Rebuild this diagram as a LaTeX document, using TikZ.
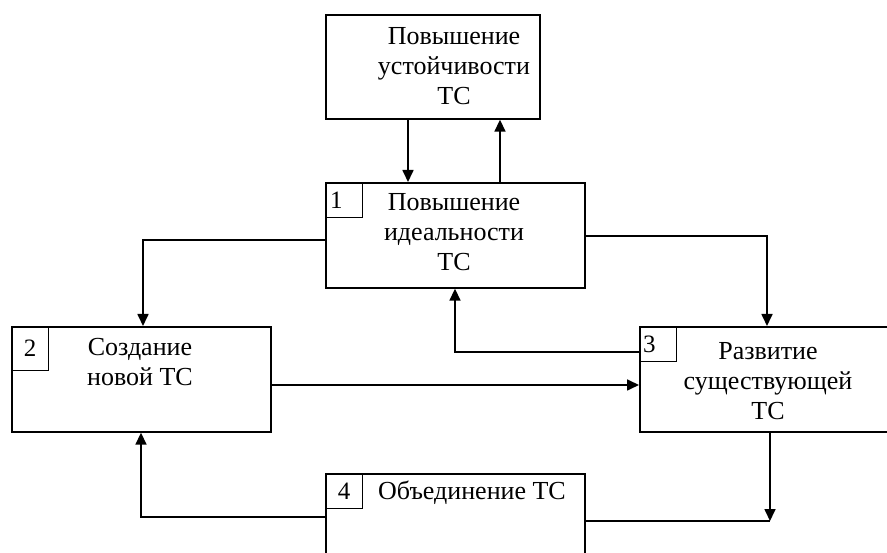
\documentclass[tikz,border=0pt]{standalone}
\usepackage{fontspec}
\setmainfont{Liberation Serif}
\usetikzlibrary{arrows.meta}
\begin{document}
\begin{tikzpicture}[x=1pt,y=-1pt,
  box/.style={draw,line width=1.7pt,inner sep=0pt,anchor=north west},
  numbox/.style={draw,line width=1.4pt,inner sep=0pt,anchor=north west,minimum width=37pt,minimum height=35pt,font=\fontsize{25}{28}\selectfont},
  lbl/.style={align=center,inner sep=0pt,font=\fontsize{26}{30}\selectfont},
  conn/.style={line width=1.7pt},
  arr/.style={conn,-{Triangle[length=12pt,width=11pt]}}]
\useasboundingbox (0,0) rectangle (887,553);
\clip (0,0) rectangle (887,553);
% boxes
\node[box,minimum width=214pt,minimum height=104pt] (b0) at (325,14) {};
\node[box,minimum width=259pt,minimum height=105pt] (b1) at (325,182) {};
\node[box,minimum width=259pt,minimum height=105pt] (b2) at (11,326) {};
\node[box,minimum width=270pt,minimum height=105pt] (b3) at (639,326) {};
\node[box,minimum width=259pt,minimum height=110pt] (b4) at (325,473) {};
% number boxes
\node[numbox,text width=32pt,align=left] (n1) at (b1.north west) {\hspace*{2pt}1};
\node[numbox,minimum height=44pt] (n2) at (b2.north west) {2};
\node[numbox,text width=32pt,align=left,minimum height=35pt] (n3) at (b3.north west) {\hspace*{1pt}3};
\node[numbox] (n4) at (b4.north west) {4};
% labels
\node[lbl] (t0) at (454,66) {Повышение\\устойчивости\\ТС};
\node[lbl] (t1) at (454,232) {Повышение\\идеальности\\ТС};
\node[lbl] (t2) at (140,362) {Создание\\новой ТС};
\node[lbl] (t3) at (768,381) {Развитие\\существующей\\ТС};
\node[lbl] (t4) at (472,493) {Объединение ТС};
% helper coordinates
\coordinate (xa) at (408,0);
\coordinate (xb) at (500,0);
\coordinate (xl) at (143,0);
\coordinate (xr) at (767,0);
\coordinate (xm) at (455,0);
\coordinate (xd) at (770,0);
\coordinate (xe) at (141,0);
\coordinate (ya) at (0,240);
\coordinate (yb) at (0,236);
\coordinate (yc) at (0,352);
\coordinate (yd) at (0,385);
\coordinate (ye) at (0,517);
\coordinate (yf) at (0,521);
\coordinate (jn) at (770,521);
% connectors
\draw[arr] (b0.south -| xa) -- (b1.north -| xa);
\draw[arr] (b1.north -| xb) -- (b0.south -| xb);
\draw[arr] (b1.west |- ya) -| (b2.north -| xl);
\draw[arr] (b1.east |- yb) -| (b3.north -| xr);
\draw[arr] (b3.west |- yc) -| (b1.south -| xm);
\draw[arr] (b2.east |- yd) -- (b3.west |- yd);
\draw[arr] (b4.west |- ye) -| (b2.south -| xe);
\draw[conn] (b4.east |- yf) -- (jn);
\draw[arr] (b3.south -| xd) -- (jn);
\end{tikzpicture}
\end{document}
